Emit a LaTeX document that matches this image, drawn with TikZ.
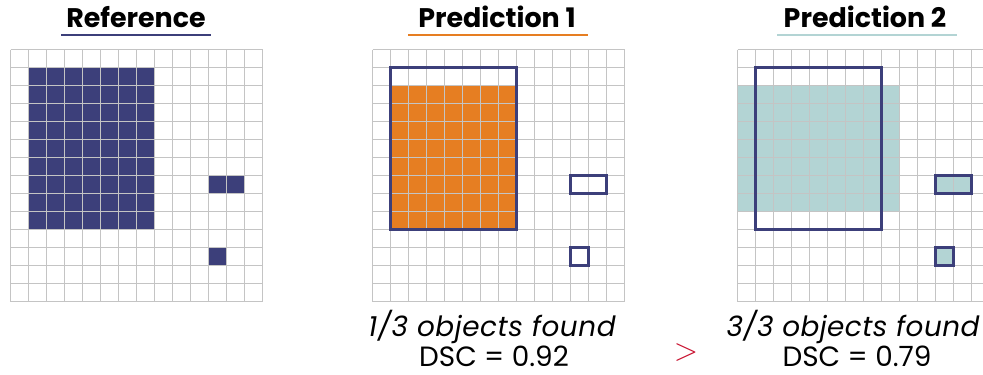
\documentclass[tikz,border=0pt]{standalone}
\usepackage{fontspec}
\setmainfont{Poppins}
\newfontfamily\lmfont{Latin Modern Roman}
\definecolor{navy}{HTML}{3C3F7A}
\definecolor{orng}{HTML}{E67E22}
\definecolor{tealc}{HTML}{B3D4D4}
\definecolor{gridc}{HTML}{C4C4C4}
\definecolor{redc}{HTML}{C8102E}
\tikzset{
  gridline/.style={gridc, line width=1.2bp},
  outl/.style={navy, line width=2.4bp},
  title/.style={font=\fontsize{27}{30}\selectfont\bfseries, inner sep=0pt, anchor=base},
  uline/.style={line width=2.6bp},
  caption/.style={font=\fontsize{28}{30}\selectfont, inner sep=0pt, anchor=base, text depth=0pt}
}
\def\cs{18}
\newcommand{\gridpanel}{%
  \foreach \i in {0,...,14} {
    \draw[gridline] (\i*\cs,0) -- (\i*\cs,14*\cs);
    \draw[gridline] (0,\i*\cs) -- (14*\cs,\i*\cs);
  }}
\begin{document}
\begin{tikzpicture}[x=1bp,y=-1bp]
\useasboundingbox (0,0) rectangle (983,374);
\clip (0,0) rectangle (983,374);
% Reference
\begin{scope}[shift={(10.5,49.5)}]
  \fill[navy] (1*\cs,1*\cs) rectangle (8*\cs,10*\cs);
  \fill[navy] (11*\cs,7*\cs) rectangle (13*\cs,8*\cs);
  \fill[navy] (11*\cs,11*\cs) rectangle (12*\cs,12*\cs);
  \gridpanel
\end{scope}
% Prediction 1
\begin{scope}[shift={(372.5,49.5)}]
  \fill[orng] (1*\cs,2*\cs) rectangle (8*\cs,10*\cs);
  \gridpanel
  \draw[outl] (1*\cs,1*\cs) rectangle (8*\cs,10*\cs);
  \draw[outl] (11*\cs,7*\cs) rectangle (13*\cs,8*\cs);
  \draw[outl] (11*\cs,11*\cs) rectangle (12*\cs,12*\cs);
\end{scope}
% Prediction 2
\begin{scope}[shift={(737.5,49.5)}]
  \fill[tealc] (0,2*\cs) rectangle (9*\cs,9*\cs);
  \fill[tealc] (11*\cs,7*\cs) rectangle (13*\cs,8*\cs);
  \fill[tealc] (11*\cs,11*\cs) rectangle (12*\cs,12*\cs);
  \gridpanel
  \draw[outl] (1*\cs,1*\cs) rectangle (8*\cs,10*\cs);
  \draw[outl] (11*\cs,7*\cs) rectangle (13*\cs,8*\cs);
  \draw[outl] (11*\cs,11*\cs) rectangle (12*\cs,12*\cs);
\end{scope}
% Titles
\node[title] (t0) at (136,27) {Reference};
\node[title] (t1) at (497,27) {Prediction 1};
\node[title] (t2) at (865,27) {Prediction 2};
\draw[uline, navy] (61,35) -- (211,35);
\draw[uline, orng] (408,35) -- (588,35);
\draw[uline, tealc] (777,35) -- (957,35);
% Captions
\node[caption] (c1) at (492,336) {\itshape\addfontfeature{LetterSpace=2}1/3 objects found};
\node[caption] (d1) at (494,366.5) {DSC = 0.92};
\node[caption, text=redc] (gt) at (686,360) {\lmfont\fontsize{32}{32}\selectfont >};
\node[caption] (c2) at (853,336) {\itshape\addfontfeature{LetterSpace=1.5}3/3 objects found};
\node[caption] (d2) at (857,366.5) {DSC = 0.79};
\end{tikzpicture}
\end{document}
